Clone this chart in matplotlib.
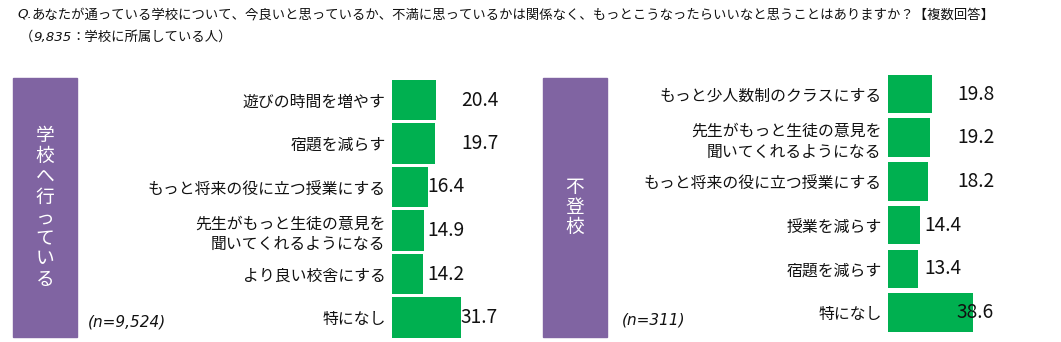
import matplotlib.pyplot as plt
from matplotlib.patches import Rectangle

plt.rcParams['font.family'] = ['Noto Sans CJK JP', 'DejaVu Sans']

# data
left_title = "学校へ行っている"
left_n = "(n=9,524)"
left_cats = ["遊びの時間を増やす", "宿題を減らす", "もっと将来の役に立つ授業にする",
             "先生がもっと生徒の意見を\n聞いてくれるようになる", "より良い校舎にする", "特になし"]
left_vals = [20.4, 19.7, 16.4, 14.9, 14.2, 31.7]

right_title = "不登校"
right_n = "(n=311)"
right_cats = ["もっと少人数制のクラスにする", "先生がもっと生徒の意見を\n聞いてくれるようになる",
              "もっと将来の役に立つ授業にする", "授業を減らす", "宿題を減らす", "特になし"]
right_vals = [19.8, 19.2, 18.2, 14.4, 13.4, 38.6]

# where the value labels start (data units), as placed in the original
left_label_x = [31.6, 31.6, 16.3, 16.3, 16.3, 31.6]
right_label_x = [31.2, 31.2, 31.2, 16.4, 16.4, 31.2]

PURPLE = "#8064A2"
GREEN = "#00B050"
TEXT = "#111111"

W, H = 1061, 342
fig = plt.figure(figsize=(W / 100, H / 100), dpi=100)


def px_axes(x0, y_top, w, h):
    return fig.add_axes([x0 / W, 1 - (y_top + h) / H, w / W, h / H])


def panel(x_bar, y_top, row_h, scale, bar_h, cats, vals, label_x,
          box_x, title, title_pitch, n_text, n_x, n_y):
    ax = px_axes(x_bar, y_top, 50 * scale, row_h * len(vals))
    ys = range(len(vals))
    ax.barh(ys, vals, height=bar_h, color=GREEN)
    ax.set_xlim(0, 50)
    ax.set_ylim(len(vals) - 0.5, -0.5)
    ax.set_yticks(list(ys))
    ax.set_yticklabels(cats, fontsize=11.4, color=TEXT, linespacing=1.3)
    ax.tick_params(axis='y', length=0, pad=4.5)
    ax.set_xticks([])
    for s in ax.spines.values():
        s.set_visible(False)
    ax.patch.set_alpha(0)
    for y, v, lx in zip(ys, vals, label_x):
        ax.text(lx, y, f"{v:.1f}", ha='left', va='center', fontsize=13.8,
                color=TEXT)

    # purple side box with vertical text
    fig.patches.append(Rectangle((box_x / W, 1 - 337 / H), 64 / W, 259 / H,
                                 transform=fig.transFigure, color=PURPLE))
    cx = (box_x + 32) / W
    n = len(title)
    for i, ch in enumerate(title):
        cy = 207.5 + (i - (n - 1) / 2) * title_pitch
        fig.text(cx, 1 - cy / H, ch, ha='center', va='center',
                 fontsize=13.5, color='white')

    fig.text(n_x / W, 1 - n_y / H, n_text, ha='left', va='center',
             fontsize=11, style='italic', family='DejaVu Sans', color=TEXT)


panel(392, 78.25, 43.5, 2.18, 0.92, left_cats, left_vals, left_label_x,
      13, left_title, 20.6, left_n, 88, 322)
panel(888, 72.15, 43.7, 2.21, 0.88, right_cats, right_vals, right_label_x,
      543, right_title, 20.0, right_n, 622, 320)

# question header
q = fig.text(17 / W, 1 - 14 / H, "Q.", ha='left', va='center', fontsize=9.6,
             style='italic', family='DejaVu Sans', color=TEXT)
plt.annotate("あなたが通っている学校について、今良いと思っているか、不満に思っているかは関係なく、"
             "もっとこうなったらいいなと思うことはありますか？【複数回答】",
             xy=(1, 0.5), xycoords=q, ha='left', va='center', fontsize=9.6,
             color=TEXT, annotation_clip=False)
p = fig.text(20 / W, 1 - 37 / H, "（", ha='left', va='center', fontsize=9.6,
             color=TEXT)
p2 = plt.annotate("9,835", xy=(1, 0.5), xycoords=p, ha='left', va='center',
                  fontsize=9.6, style='italic', family='DejaVu Sans', color=TEXT,
                  annotation_clip=False)
plt.annotate("：学校に所属している人）", xy=(1, 0.5), xycoords=p2, ha='left',
             va='center', fontsize=9.6, color=TEXT, annotation_clip=False)

fig.savefig("out.png", dpi=100)
